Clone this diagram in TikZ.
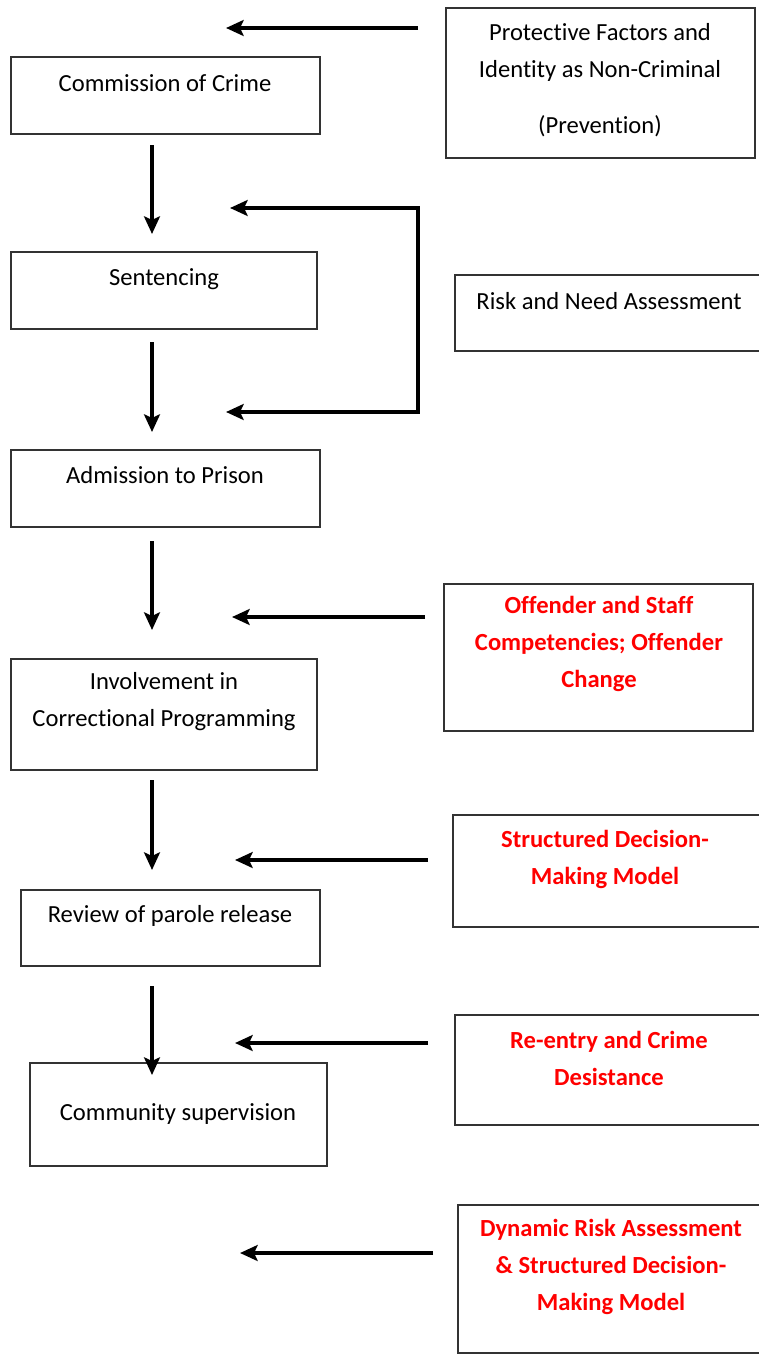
\documentclass[tikz,border=0pt]{standalone}
\usepackage{fontspec}
\setmainfont[Ligatures = NoCommon]{Carlito}
\usetikzlibrary{arrows.meta,fit}

\begin{document}
\begin{tikzpicture}[x = 0.02cm, y = -0.02cm,
		box/.style = {draw = black!80, line width = 0.8pt, inner sep = 0pt, fit = {#1}},
		lbl/.style = {align = center, inner sep = 0pt, font = \fontsize{14}{21}\selectfont},
		redlbl/.style = {lbl, text = red, font = \fontsize{14}{21}\selectfont\bfseries},
		arr/.style = {line width = 2pt, -{Stealth[length = 10pt, width = 9pt, inset = 2pt]}},
		twoarr/.style = {line width = 2pt, {Stealth[length = 10pt, width = 9pt, inset = 2pt]}-{Stealth[length = 10pt, width = 9pt, inset = 2pt]}}]
		\useasboundingbox (0, 0) rectangle (759, 1355);
		% left column
		\node (crime) [box = {(11, 57) (320, 134)}] {};
		\node (crimetxt) [lbl] at (165, 83) {Commission of Crime};
		\node (sent) [box = {(11, 252) (317, 329)}] {};
		\node (senttxt) [lbl] at (164, 279) {Sentencing};
		\node (adm) [box = {(11, 450) (320, 527)}] {};
		\node (admtxt) [lbl] at (165, 475) {Admission to Prison};
		\node (prog) [box = {(11, 659) (317, 770)}] {};
		\node (progtxt) [lbl] at (164, 702) {Involvement in\\Correctional Programming};
		\node (parole) [box = {(21, 890) (320, 966)}] {};
		\node (paroletxt) [lbl] at (170, 916) {Review of parole release};
		\node (comm) [box = {(30, 1063) (327, 1166)}] {};
		\node (commtxt) [lbl] at (178, 1114) {Community supervision};
		% right column
		\node (prot) [box = {(446, 8) (755, 158)}] {};
		\node (prottxt) [lbl] at (600, 80) {Protective Factors and\\Identity as Non-Criminal\\[10.8pt](Prevention)};
		\node (risk) [box = {(455, 275) (762, 351)}] {};
		\node (risktxt) [lbl] at (609, 301) {Risk and Need Assessment};
		\node (comp) [box = {(444, 584) (753, 731)}] {};
		\node (comptxt) [redlbl] at (599, 644) {Offender and Staff\\Competencies; Offender\\Change};
		\node (sdm) [box = {(453, 815) (762, 927)}] {};
		\node (sdmtxt) [redlbl] at (605, 859) {Structured Decision-\\Making Model};
		\node (reent) [box = {(455, 1015) (762, 1125)}] {};
		\node (reenttxt) [redlbl] at (609, 1058) {Re-entry and Crime\\Desistance};
		\node (dyn) [box = {(458, 1205) (762, 1353)}] {};
		\node (dyntxt) [redlbl] at (611, 1267) {Dynamic Risk Assessment\\\& Structured Decision-\\Making Model};
		% arrow ends
		\coordinate (p1) at (418, 28);
		\coordinate (p1e) at (226, 28);
		\coordinate (d1) at (152, 145);
		\coordinate (d1e) at (152, 234);
		\coordinate (b1) at (418, 208);
		\coordinate (b1e) at (230, 208);
		\coordinate (b2) at (418, 412);
		\coordinate (b2e) at (226, 412);
		\coordinate (d2) at (152, 342);
		\coordinate (d2e) at (152, 432);
		\coordinate (d3) at (152, 541);
		\coordinate (d3e) at (152, 630);
		\coordinate (c1) at (425, 617);
		\coordinate (c1e) at (232, 617);
		\coordinate (d4) at (152, 780);
		\coordinate (d4e) at (152, 870);
		\coordinate (s1) at (428, 860);
		\coordinate (s1e) at (235, 860);
		\coordinate (d5) at (152, 986);
		\coordinate (d5e) at (152, 1075);
		\coordinate (r1) at (428, 1043);
		\coordinate (r1e) at (235, 1043);
		\coordinate (y1) at (433, 1253);
		\coordinate (y1e) at (240, 1253);
		% arrows
		\draw[arr] (p1) -- (p1e);
		\draw[arr] (d1) -- (d1e);
		\draw[twoarr] (b1e) -- (b1) -- (b2) -- (b2e);
		\draw[arr] (d2) -- (d2e);
		\draw[arr] (d3) -- (d3e);
		\draw[arr] (c1) -- (c1e);
		\draw[arr] (d4) -- (d4e);
		\draw[arr] (s1) -- (s1e);
		\draw[arr] (d5) -- (d5e);
		\draw[arr] (r1) -- (r1e);
		\draw[arr] (y1) -- (y1e);
	\end{tikzpicture}
\end{document}
